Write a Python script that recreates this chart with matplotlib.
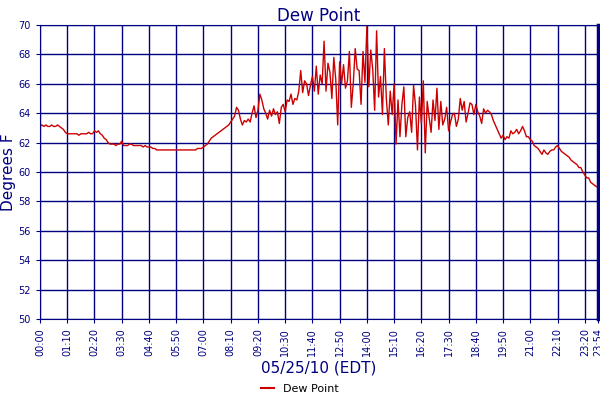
import numpy as np
import matplotlib
matplotlib.use("Agg")
import matplotlib.pyplot as plt
from matplotlib.lines import Line2D

tick_labels = ["00:00","01:10","02:20","03:30","04:40","05:50","07:00","08:10","09:20",
               "10:30","11:40","12:50","14:00","15:10","16:20","17:30","18:40","19:50",
               "21:00","22:10","23:20","23:54"]
y_ticks = [50,52,54,56,58,60,62,64,66,68,70]

dew_point = [
 63.1,63.2,63.1,63.2,63.1,63.1,63.2,63.1,63.1,63.2,63.1,63.0,
 62.9,62.7,62.6,62.6,62.6,62.6,62.6,62.6,62.5,62.6,62.6,62.6,
 62.6,62.7,62.6,62.6,62.8,62.7,62.8,62.6,62.5,62.3,62.2,62.0,
 61.9,61.9,61.9,61.8,61.9,61.9,62.1,61.8,61.8,61.8,61.9,61.9,
 61.8,61.8,61.8,61.8,61.8,61.7,61.8,61.7,61.7,61.7,61.6,61.6,
 61.5,61.5,61.5,61.5,61.5,61.5,61.5,61.5,61.5,61.5,61.5,61.5,
 61.5,61.5,61.5,61.5,61.5,61.5,61.5,61.5,61.5,61.6,61.6,61.6,
 61.7,61.8,61.9,62.1,62.3,62.4,62.5,62.6,62.7,62.8,62.9,63.0,
 63.1,63.2,63.4,63.6,63.8,64.4,64.2,63.6,63.2,63.5,63.4,63.6,
 63.4,64.0,64.5,63.7,64.2,65.3,64.9,64.3,64.0,63.6,64.2,63.8,
 64.3,63.9,64.1,63.3,64.4,64.6,64.1,64.9,64.8,65.3,64.6,65.0,
 64.9,65.5,66.9,65.4,66.2,66.0,65.2,65.9,66.5,65.5,67.2,65.3,
 66.6,66.0,68.9,65.5,67.4,66.8,65.0,67.8,66.3,63.2,67.5,66.0,
 67.3,65.7,66.2,68.2,64.4,66.0,68.4,67.0,66.9,64.6,68.2,66.1,
 69.9,65.8,68.3,67.0,64.2,69.6,65.1,66.5,63.9,68.4,65.0,63.2,
 65.5,63.9,66.0,61.9,64.9,62.4,64.6,65.8,62.4,63.7,64.1,62.7,
 65.9,64.5,61.5,65.1,63.3,66.2,61.3,64.8,63.7,62.7,64.9,63.5,
 65.7,62.9,64.8,63.2,63.6,64.4,62.8,63.4,63.9,64.0,63.1,63.6,
 65.0,64.2,64.8,63.4,64.0,64.7,64.6,63.9,64.6,64.1,63.8,63.3,
 64.3,64.0,64.2,64.1,63.9,63.5,63.2,62.9,62.6,62.3,62.5,62.2,
 62.4,62.3,62.8,62.6,62.7,62.9,62.6,62.8,63.1,62.8,62.4,62.4,
 62.2,62.1,61.8,61.7,61.6,61.4,61.2,61.5,61.3,61.2,61.4,61.5,
 61.5,61.7,61.8,61.6,61.4,61.3,61.2,61.1,61.0,60.8,60.7,60.6,
 60.5,60.3,60.3,60.0,59.8,59.6,59.6,59.3,59.2,59.1,59.0,
]
minutes = np.arange(len(dew_point)) * 5

def to_min(s):
    h, m = s.split(":")
    return int(h) * 60 + int(m)

navy = "#000080"
red = "#cc0000"

fig = plt.figure(figsize=(6, 4), dpi=100)
ax = fig.add_axes([0.0667, 0.2025, 0.93, 0.735])
ax.plot(minutes, dew_point, color=red, lw=1)
ax.set_xlim(0, 1434)
ax.set_ylim(50, 70)
ax.set_xticks([to_min(t) for t in tick_labels])
ax.set_xticklabels(tick_labels, rotation=90, fontsize=7, color=navy)
ax.set_yticks(y_ticks)
ax.set_yticklabels([str(v) for v in y_ticks], fontsize=7, color=navy)
ax.grid(True, color=navy, lw=1)
ax.tick_params(colors=navy, length=3)
for s in ax.spines.values():
    s.set_color(navy)
ax.spines["right"].set_linewidth(2.5)
ax.set_title("Dew Point", color=navy, fontsize=12, pad=3)
ax.set_ylabel("Degrees F", color=navy, fontsize=11, labelpad=2)
ax.set_xlabel("05/25/10 (EDT)", color=navy, fontsize=11, labelpad=3)
fig.legend([Line2D([0], [0], color=red, lw=1.5)], ["Dew Point"], loc="lower center",
           bbox_to_anchor=(0.5, -0.01), frameon=False, fontsize=8, handlelength=1.2)
fig.savefig("out.png", dpi=100)
